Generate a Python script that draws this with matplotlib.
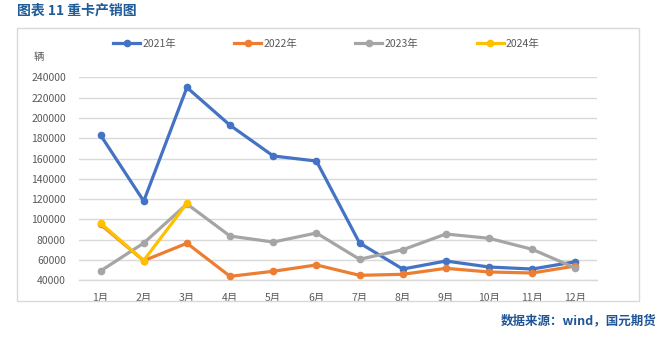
import matplotlib
matplotlib.use("Agg")
import matplotlib.pyplot as plt
from matplotlib.patches import Rectangle

plt.rcParams['font.family'] = ['Noto Sans CJK SC', 'DejaVu Sans']

months = ['1月', '2月', '3月', '4月', '5月', '6月', '7月', '8月', '9月', '10月', '11月', '12月']
sales_2021 = [183000, 118000, 230000, 192700, 162500, 157500, 76700, 51100, 59000, 53100, 51100, 58300]
sales_2022 = [95000, 59300, 76500, 43900, 48900, 55100, 44900, 45900, 51800, 48200, 47200, 54100]
sales_2023 = [49200, 76700, 115200, 83600, 77700, 86600, 60700, 70100, 85600, 81400, 70500, 52100]
sales_2024 = [96200, 59500, 115900]

series = [
    ('2021年', sales_2021, '#4472C4'),
    ('2022年', sales_2022, '#ED7D31'),
    ('2023年', sales_2023, '#A5A5A5'),
    ('2024年', sales_2024, '#FFC000'),
]

fig = plt.figure(figsize=(6.69, 3.39), dpi=100)
ax = fig.add_axes([79 / 669, 1 - 280.3 / 339, 518 / 669, 203 / 339])

# chart border
fig.patches.append(Rectangle((17 / 669, 1 - 301 / 339), 622 / 669, 273 / 339,
                             transform=fig.transFigure, fill=False,
                             edgecolor='#D9D9D9', linewidth=1))

for label, vals, color in series:
    ax.plot(range(len(vals)), vals, '-o', color=color, label=label,
            linewidth=2.3, markersize=4.5)

ax.set_xlim(-0.5, 11.5)
ax.set_ylim(40000, 240000)
ax.set_yticks(range(40000, 240001, 20000))
ax.set_xticks(range(12))
ax.set_xticklabels(months)
ax.grid(axis='y', color='#D9D9D9', linewidth=1)
ax.axhline(40000, color='#D9D9D9', linewidth=1, clip_on=False, zorder=0.5)
ax.set_axisbelow(True)
for s in ax.spines.values():
    s.set_visible(False)
ax.tick_params(length=0, labelsize=7.5, colors='#595959')
ax.tick_params(axis='y', pad=9.5)
ax.tick_params(axis='x', pad=9)

fig.text(39 / 669, 1 - 57 / 339, '辆', fontsize=7.5, color='#595959', ha='center', va='center')

ax.legend(loc='center left', bbox_to_anchor=(113 / 669, 1 - 44 / 339), bbox_transform=fig.transFigure,
          ncol=4, frameon=False, fontsize=7.5, labelcolor='#595959',
          handlelength=2.6, handletextpad=0.2, columnspacing=5.6, borderpad=0, borderaxespad=0)

fig.text(17 / 669, 1 - 11 / 339, '图表 11 重卡产销图', fontsize=10, fontweight='bold',
         color='#1F5C99', ha='left', va='center')
fig.text(657 / 669, 1 - 321 / 339, '数据来源：wind，国元期货', fontsize=9, fontweight='bold',
         color='#1F5597', ha='right', va='center')

fig.savefig('out.png', dpi=100)
